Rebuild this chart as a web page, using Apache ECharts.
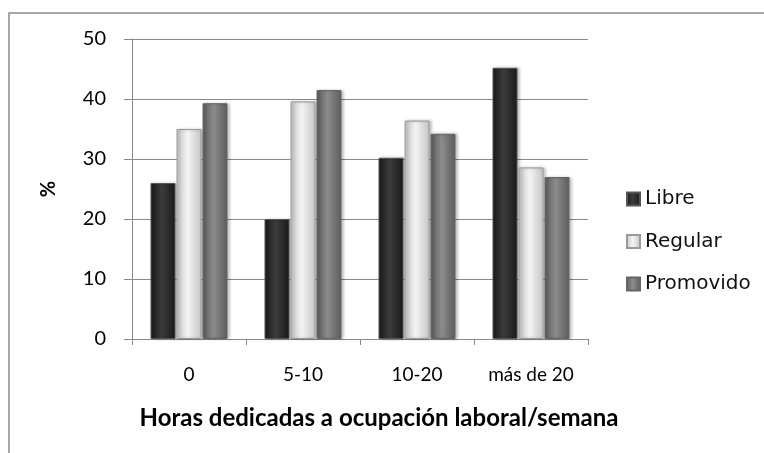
<!DOCTYPE html>
<html>
<head>
<meta charset="utf-8">
<script src="https://cdn.jsdelivr.net/npm/echarts@6/dist/echarts.min.js"></script>
<style>
  html, body { margin: 0; padding: 0; background: #fff; }
  #chart { width: 764px; height: 453px; }
</style>
</head>
<body>
<div id="chart"></div>
<script>
// categorias (horas por semana)
const categories = ["0", "5-10", "10-20", "más de 20"];
// porcentajes por condición
const libre = [26, 20, 30.2, 45.2];
const regular = [35, 39.6, 36.4, 28.6];
const promovido = [39.3, 41.5, 34.2, 27];
const yTicks = { min: 0, max: 50, interval: 10 };

// degradado horizontal para simular barras con relieve
function shade(edge, mid) {
  return new echarts.graphic.LinearGradient(0, 0, 1, 0, [
    { offset: 0, color: edge },
    { offset: 0.45, color: mid },
    { offset: 1, color: edge }
  ]);
}

function barSeries(name, data, edge, mid, border) {
  return {
    name: name,
    type: "bar",
    data: data,
    barWidth: 25,
    barGap: "4%",
    itemStyle: {
      color: shade(edge, mid),
      borderColor: border,
      borderWidth: 1,
      shadowColor: "rgba(0,0,0,0.25)",
      shadowBlur: 3,
      shadowOffsetX: 2,
      shadowOffsetY: 0
    }
  };
}

const myChart = echarts.init(document.getElementById("chart"));
const option = {
  animation: false,
  graphic: [{
    type: "rect",
    shape: { x: 9, y: 13, width: 800, height: 500 },
    style: { fill: "none", stroke: "#8c8c8c", lineWidth: 1.5 },
    silent: true
  }],
  grid: { left: 132, right: 176, top: 39, bottom: 114 },
  legend: {
    orient: "vertical",
    left: 621,
    top: 184,
    itemWidth: 13,
    itemHeight: 13,
    itemGap: 22.5,
    icon: "rect",
    textStyle: { fontFamily: "DejaVu Sans", fontSize: 20, color: "#111", lineHeight: 20 },
    data: ["Libre", "Regular", "Promovido"]
  },
  xAxis: {
    type: "category",
    data: categories,
    name: "Horas dedicadas a ocupación laboral/semana",
    nameLocation: "middle",
    nameGap: 67,
    nameTextStyle: {
      fontFamily: "Lato", fontWeight: "bold", fontSize: 24, color: "#000",
      padding: [0, 0, 0, 38]
    },
    axisLine: { lineStyle: { color: "#888", width: 1 } },
    axisTick: { show: true, length: 6, lineStyle: { color: "#888" } },
    axisLabel: { fontFamily: "Lato", fontSize: 19, color: "#000", margin: 26 }
  },
  yAxis: {
    type: "value",
    min: yTicks.min,
    max: yTicks.max,
    interval: yTicks.interval,
    name: "%",
    nameLocation: "middle",
    nameGap: 73,
    nameRotate: 90,
    nameTextStyle: { fontFamily: "Lato", fontWeight: "bold", fontSize: 20, color: "#000" },
    axisLine: { show: true, lineStyle: { color: "#888", width: 1 } },
    axisTick: { show: true, length: 8, lineStyle: { color: "#888" } },
    axisLabel: { fontFamily: "Lato", fontSize: 20, color: "#000", margin: 26 },
    splitLine: { show: true, lineStyle: { color: "#8a8a8a", width: 1 } }
  },
  series: [
    barSeries("Libre", libre, "#1a1a1a", "#3c3c3c", "#555"),
    barSeries("Regular", regular, "#c4c4c4", "#f4f4f4", "#9a9a9a"),
    barSeries("Promovido", promovido, "#5c5c5c", "#8c8c8c", "#666")
  ]
};
myChart.setOption(option);
</script>
</body>
</html>
